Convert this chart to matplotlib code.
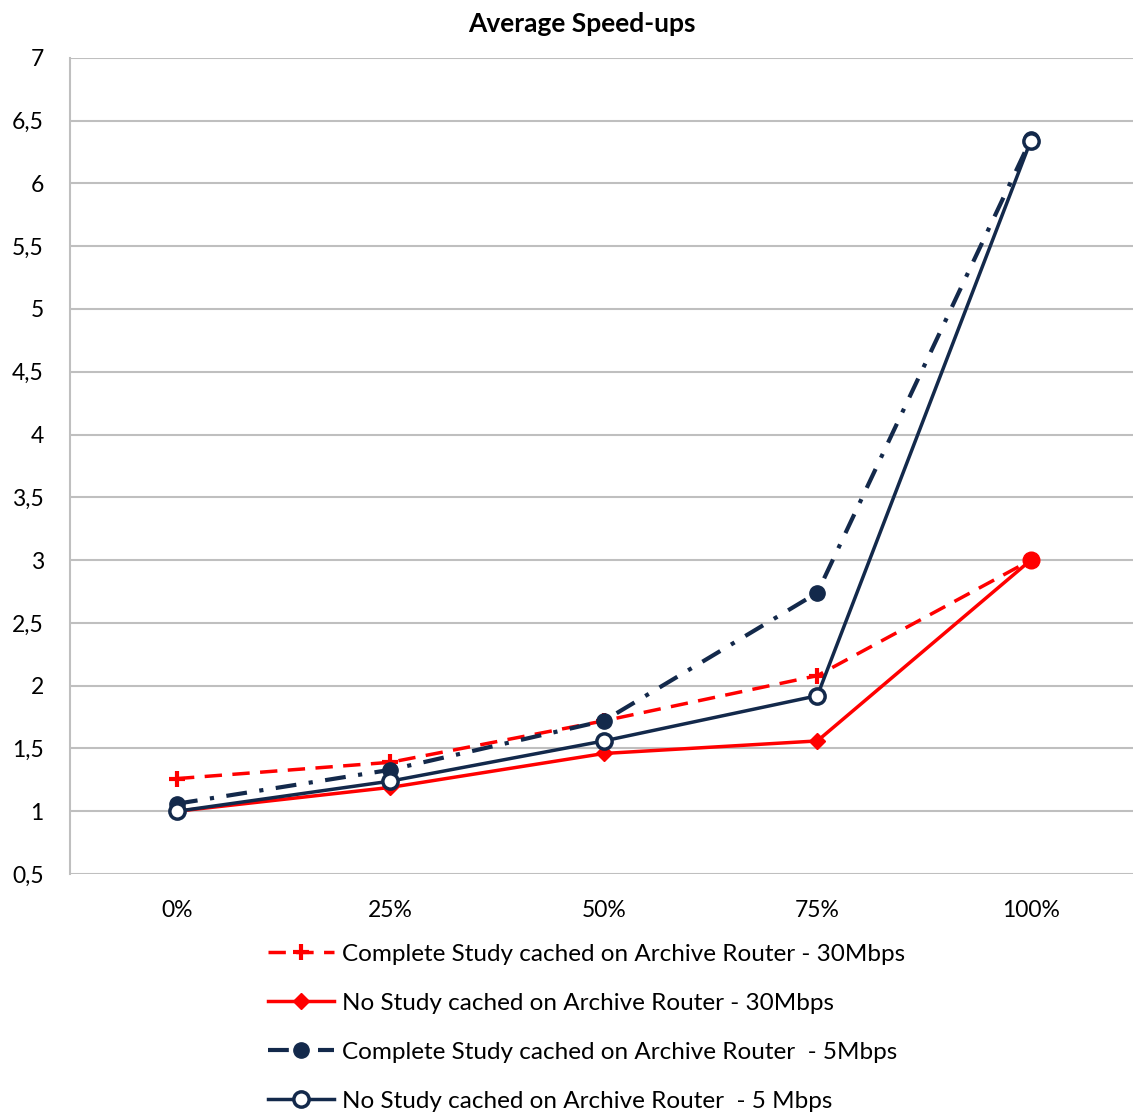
import matplotlib.pyplot as plt

plt.rcParams['font.family'] = ['Lato', 'DejaVu Sans']

categories = ['0%', '25%', '50%', '75%', '100%']
complete_30 = [1.26, 1.39, 1.72, 2.08, 3.0]
none_30 = [1.0, 1.19, 1.46, 1.56, 3.0]
complete_5 = [1.06, 1.33, 1.72, 2.74, 6.35]
none_5 = [1.0, 1.24, 1.56, 1.92, 6.34]
yticks = [0.5, 1, 1.5, 2, 2.5, 3, 3.5, 4, 4.5, 5, 5.5, 6, 6.5, 7]

red = '#ff0000'
navy = '#13294b'

fig = plt.figure(figsize=(11.33, 11.12), dpi=100)
ax = fig.add_axes([0.062, 0.214, 0.942, 0.734])

x = range(len(categories))
ax.plot(x, complete_30, color=red, linestyle=(0, (5, 3)), linewidth=2.5,
        marker='+', markersize=11, markeredgewidth=3,
        label='Complete Study cached on Archive Router - 30Mbps')
ax.plot(x, none_30, color=red, linewidth=2.5, marker='D', markersize=8,
        label='No Study cached on Archive Router - 30Mbps')
ax.plot(x, complete_5, color=navy, linestyle=(0, (5, 3, 1, 3)), linewidth=3,
        marker='o', markersize=11,
        label='Complete Study cached on Archive Router  - 5Mbps')
ax.plot(x, none_5, color=navy, linewidth=2.5, marker='o', markersize=11,
        markerfacecolor='white', markeredgewidth=2.5,
        label='No Study cached on Archive Router  - 5 Mbps')
# the last red point is drawn as a filled circle in the reference
ax.plot([4], [none_30[4]], color=red, marker='o', markersize=12, linestyle='none')

ax.set_xlim(-0.5, 4.5)
ax.set_ylim(0.5, 7)
ax.set_xticks(list(x))
ax.set_xticklabels(categories)
ax.set_yticks(yticks)
ax.set_yticklabels([f'{v:g}'.replace('.', ',') for v in yticks])
ax.tick_params(length=0, labelsize=16.5)
ax.tick_params(axis='x', pad=19)
ax.tick_params(axis='y', pad=19)
ax.grid(axis='y', color='#bfbfbf', linewidth=1.5)
ax.set_axisbelow(True)
for s in ['top', 'right', 'bottom']:
    ax.spines[s].set_visible(False)
ax.spines['left'].set_color('#bfbfbf')
ax.spines['left'].set_linewidth(1.5)

fig.text(0.514, 0.978, 'Average Speed-ups', ha='center', va='center',
         fontsize=19, fontweight='bold')

fig.legend(loc='upper left', bbox_to_anchor=(0.228, 0.16), frameon=False,
           fontsize=17.5, handlelength=2.7, labelspacing=1.15, handletextpad=0.35,
           borderaxespad=0)

fig.savefig('out.png', dpi=100)
